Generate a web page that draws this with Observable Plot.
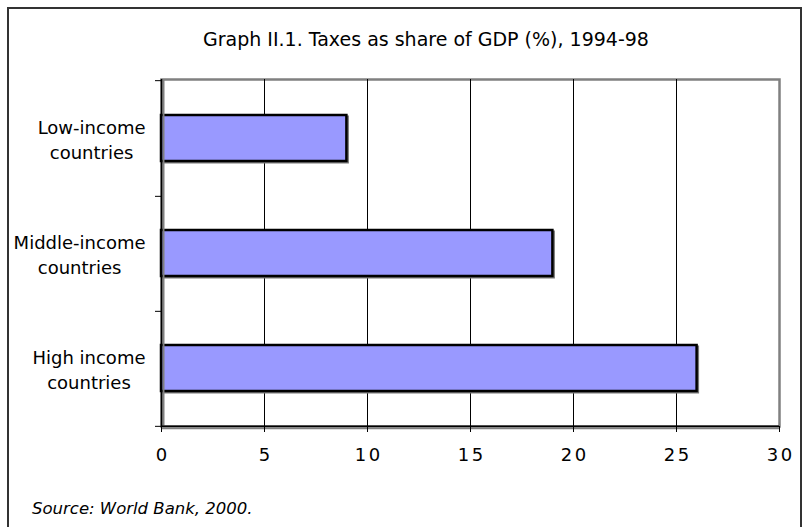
<!DOCTYPE html>
<html><head><meta charset="utf-8">
<script src="https://cdn.jsdelivr.net/npm/d3@7"></script>
<script src="https://cdn.jsdelivr.net/npm/@observablehq/plot@0.6"></script>
<style>
body{margin:0;background:#fff;}
#wrap{position:relative;width:804px;height:527px;overflow:hidden;font-family:"DejaVu Sans",sans-serif;color:#000;}
#border{position:absolute;left:7px;top:7px;width:795px;height:600px;border:2px solid #333;box-sizing:border-box;}
#title{position:absolute;top:30px;left:203px;font-size:19px;line-height:1;white-space:nowrap;}
#source{position:absolute;left:32px;top:501px;font-style:italic;font-size:16.5px;line-height:1;white-space:nowrap;}
#chart{position:absolute;left:0;top:0;}
</style></head>
<body><div id="wrap"><div id="border"></div><div id="chart"></div><div id="title"></div><div id="source"></div></div>
<script>
const categories = ["Low-income\ncountries", "Middle-income\ncountries", "High income\ncountries"];
const values = [9, 19, 26];
const xTicks = [0, 5, 10, 15, 20, 25, 30];
const titleText = "Graph II.1. Taxes as share of GDP (%), 1994-98";
const sourceText = "Source: World Bank, 2000.";

document.getElementById("title").textContent = titleText;
document.getElementById("source").textContent = sourceText;

const W = 804, H = 527, mt = 79, mb = 101, ml = 161, mr = 25;
const step = (H - mt - mb) / categories.length;
const data = categories.map((c, i) => ({category: c, value: values[i]}));

// measure label widths for block-centred, right-aligned labels
const ctx = document.createElement("canvas").getContext("2d");
ctx.font = "18px 'DejaVu Sans'";
const widths = categories.map(c => d3.max(c.split("\n"), s => ctx.measureText(s).width));

const plot = Plot.plot({
  width: W, height: H,
  marginTop: mt, marginBottom: mb, marginLeft: ml, marginRight: mr,
  style: {fontFamily: "'DejaVu Sans', sans-serif", fontSize: "18px", background: "transparent", color: "#000"},
  x: {domain: [0, 30], label: null},
  y: {domain: categories, paddingInner: 0.6, paddingOuter: 0.3, axis: null, label: null},
  marks: [
    Plot.frame({stroke: "#808080", strokeWidth: 2.5}),
    Plot.gridX(xTicks.slice(1, -1), {stroke: "#000", strokeOpacity: 1, strokeWidth: 1}),
    Plot.barX(data, {x: "value", y: "category", fill: "none", stroke: "#777", strokeWidth: 2, dx: 1.5, dy: 1.5}),
    Plot.barX(data, {x: "value", y: "category", fill: "#9999ff", stroke: "#000", strokeWidth: 2.5}),
    Plot.ruleX([0], {stroke: "#808080", strokeWidth: 2, dx: 2}),
    Plot.ruleX([0], {stroke: "#000", strokeWidth: 1.5}),
    Plot.ruleY([categories[categories.length - 1]], {y: d => d, stroke: "#808080", strokeWidth: 2, dy: step / 2 + 2}),
    Plot.ruleY([categories[categories.length - 1]], {y: d => d, stroke: "#000", strokeWidth: 1.5, dy: step / 2}),
    Plot.axisY({text: null, label: null, tickSize: 6, dy: step / 2, stroke: "#000"}),
    Plot.axisY({ticks: [categories[0]], text: null, label: null, tickSize: 6, dy: -step / 2, stroke: "#000"}),
    Plot.axisX({ticks: xTicks, label: null, tickSize: 6, tickPadding: 16, fontSize: 18, stroke: "#000", fill: "#000", tickFormat: d => String(d)}),
    ...categories.map((c, i) => Plot.text([c], {
      y: d => d, text: d => d, frameAnchor: "left", textAnchor: "middle",
      dx: -16 - widths[i] / 2, fontSize: 18, lineHeight: 1.39, fill: "#000"
    }))
  ]
});
document.getElementById("chart").appendChild(plot);
d3.select(plot).selectAll("g[aria-label='x-axis tick label'] text").attr("letter-spacing", "2.5px").attr("dx", "1.25px");
</script>
</body></html>
